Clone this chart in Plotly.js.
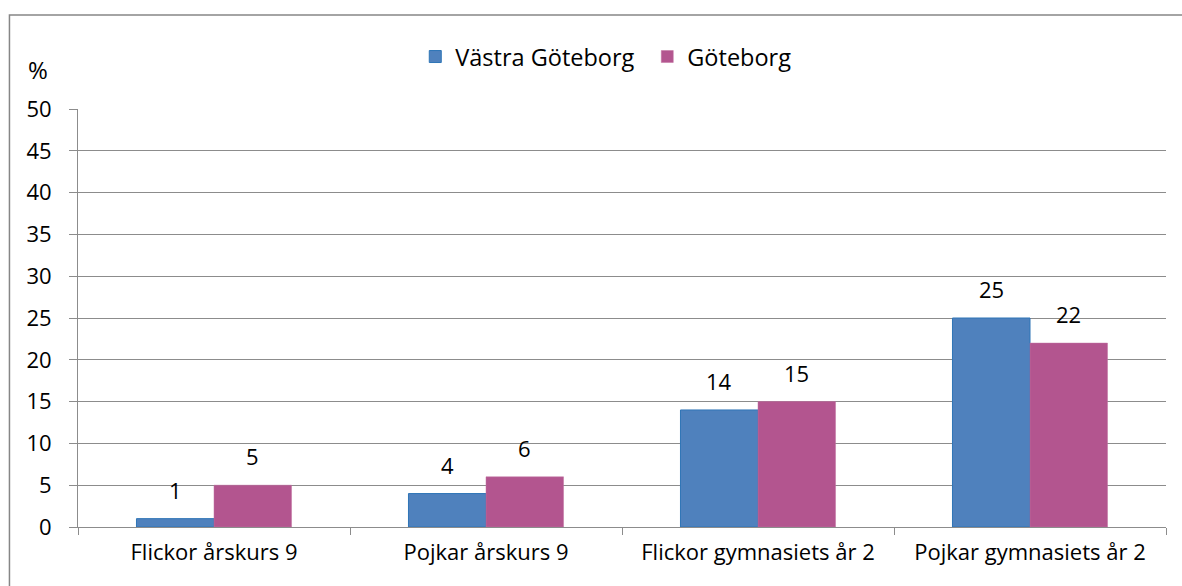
<!DOCTYPE html>
<html><head><meta charset="utf-8">
<script src="https://cdn.plot.ly/plotly-3.0.1.min.js"></script>
<style>html,body{margin:0;padding:0;background:#fff}#c{width:1182px;height:586px}</style>
</head><body><div id="c"></div>
<script>
const categories = ["Flickor årskurs 9", "Pojkar årskurs 9", "Flickor gymnasiets år 2", "Pojkar gymnasiets år 2"];
const vastraGoteborg = [1, 4, 14, 25];
const goteborg = [5, 6, 15, 22];
const seriesNames = ["Västra Göteborg", "Göteborg"];
const yTicks = [0, 5, 10, 15, 20, 25, 30, 35, 40, 45, 50];

const font = {family: "Open Sans, Noto Sans, sans-serif", size: 22, color: "#000"};
const traces = [
  {type: "bar", x: categories, y: vastraGoteborg, name: seriesNames[0],
   marker: {color: "#4F81BD", line: {color: "#2E75B6", width: 1}}},
  {type: "bar", x: categories, y: goteborg, name: seriesNames[1],
   marker: {color: "#B3558F", line: {color: "#C070A0", width: 0.5}}}
];
const labelAnn = [];
const barHalf = 38.75;
[[vastraGoteborg, -barHalf], [goteborg, barHalf]].forEach(([vals, dx]) => {
  vals.forEach((v, i) => labelAnn.push({
    x: categories[i], y: v, xref: "x", yref: "y", text: String(v), showarrow: false,
    xshift: dx, yshift: 12, yanchor: "bottom", xanchor: "center", font: font
  }));
});
const layout = {
  width: 1182, height: 586,
  margin: {l: 78, r: 16, t: 109, b: 59},
  paper_bgcolor: "#fff", plot_bgcolor: "#fff",
  font: font,
  barmode: "group", bargap: 0.43, bargroupgap: 0,
  showlegend: true,
  legend: {orientation: "h", x: 0.31, xanchor: "left", y: 1.125, yanchor: "middle",
           font: Object.assign({}, font, {size: 23.5}), bgcolor: "rgba(0,0,0,0)",
           traceorder: "normal", itemwidth: 30, entrywidth: 187, entrywidthmode: "pixels"},
  xaxis: {type: "category", showline: true, linecolor: "#8C8C8C", linewidth: 1,
          ticks: "outside", tickson: "boundaries", ticklen: 7, tickcolor: "#8C8C8C",
          showgrid: false, tickfont: font, zeroline: false, ticklabelstandoff: 6},
  yaxis: {range: [0, 50], tickvals: yTicks, showline: true, linecolor: "#8C8C8C", linewidth: 1,
          ticks: "outside", ticklen: 8, tickcolor: "#8C8C8C", showgrid: true,
          gridcolor: "#8C8C8C", gridwidth: 1, zeroline: false, tickfont: font, ticklabelstandoff: 13},
  annotations: labelAnn.concat([{text: "%", xref: "paper", yref: "paper", x: -0.037, y: 1.095,
                 xanchor: "center", yanchor: "middle", showarrow: false,
                 font: Object.assign({}, font, {size: 24})}]),
  shapes: [{type: "rect", xref: "paper", yref: "paper", x0: -0.063, x1: 1.05, y0: -0.3, y1: 1.225,
            line: {color: "#868686", width: 1.5}}]
};
Plotly.newPlot("c", traces, layout, {displayModeBar: false, staticPlot: true});
</script></body></html>
